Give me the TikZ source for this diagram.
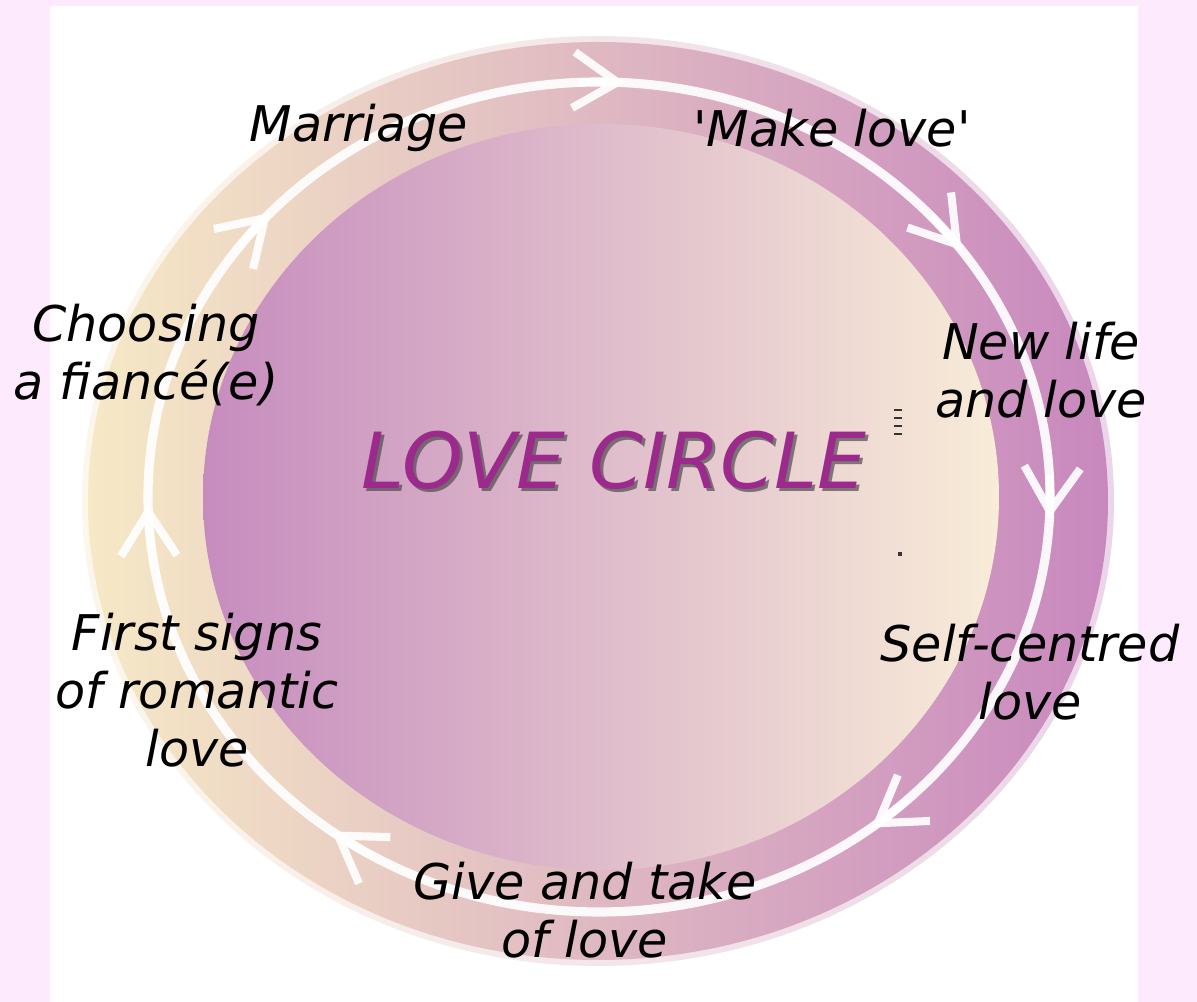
\documentclass[tikz,border=0pt]{standalone}
\usepackage{fontspec}
\newfontfamily\comicfont{DejaVu Sans}
\definecolor{pageTint}{RGB}{253,234,253}
\definecolor{ringCream}{RGB}{246,233,198}
\definecolor{ringPurple}{RGB}{200,136,190}
\definecolor{coreMauve}{RGB}{198,140,190}
\definecolor{coreCream}{RGB}{248,236,216}
\definecolor{titlePurple}{RGB}{156,42,140}
\usetikzlibrary{arrows.meta,calc,positioning}
\tikzset{
  stagelabel/.style={font=\comicfont\itshape\fontsize{14}{16.5}\selectfont,align=center,inner sep=0pt},
  flowline/.style={white,line width=2.6pt,opacity=.92},
}

\begin{document}
\begin{tikzpicture}
        \useasboundingbox (0,0) rectangle (11.97,10.02);
        % Page
        \fill[pageTint] (0,0) rectangle (11.97,10.02);
        \fill[white] (0.50,0) rectangle (11.38,9.96);
        % Ring
        \coordinate (ringc) at (5.98,5.01);
        \shade[left color=ringCream,right color=ringPurple,opacity=.35] (ringc) ellipse [x radius=5.16,y radius=4.65];
        \shade[left color=ringCream,right color=ringPurple] (ringc) ellipse [x radius=5.10,y radius=4.59];
        % Core
        \shade[left color=coreMauve,right color=coreCream] (6.01,5.05) ellipse [x radius=3.98,y radius=3.73];
        % Flow with arrows
        \coordinate (flowc) at (5.99,5.05);
        \draw[flowline] (flowc) ellipse [x radius=4.51,y radius=4.15];
        \foreach \t in {86.7,36.5,-3,-52.8,-126.3,181,136.8}
          \draw[flowline,line width=2.3pt,-{Straight Barb[length=4.4mm,width=5.6mm]}]
            ($(flowc)+({\t+6}:4.51 and 4.15)$) arc[start angle=\t+6,end angle=\t,x radius=4.51,y radius=4.15];
        % Specks
        \foreach \y in {5.93,5.85,5.77,5.69}
          \fill[black!80] (8.94,\y) rectangle (9.02,\y-0.025);
        \fill[black!80] (8.98,4.46) rectangle (9.02,4.50);
        % Stages
        \node[stagelabel] (marriage) at (3.59,8.74) {Marriage};
        \node[stagelabel] (makelove) at (8.32,8.74) {\textquotesingle Make love\textquotesingle};
        \node[stagelabel] (newlife) at (10.41,6.32) {New life\\and love};
        \node[stagelabel] (selfcentred) at (10.30,3.30) {Self-centred\\love};
        \node[stagelabel] (givetake) at (5.85,0.92) {Give and take\\of love};
        \node[stagelabel] (firstsigns) at (1.97,3.12) {First signs\\of romantic\\love};
        \node[stagelabel] (choosing) at (1.46,6.47) {Choosing\\a fiancé(e)};
        % Title
        \node[font=\comicfont\itshape\fontsize{22}{26}\selectfont,text=black!70,opacity=.7] (titleshadow) at (6.17,5.39) {LOVE CIRCLE};
        \node[font=\comicfont\itshape\fontsize{22}{26}\selectfont,text=titlePurple] (title) at (6.14,5.42) {LOVE CIRCLE};
\end{tikzpicture}
\end{document}
